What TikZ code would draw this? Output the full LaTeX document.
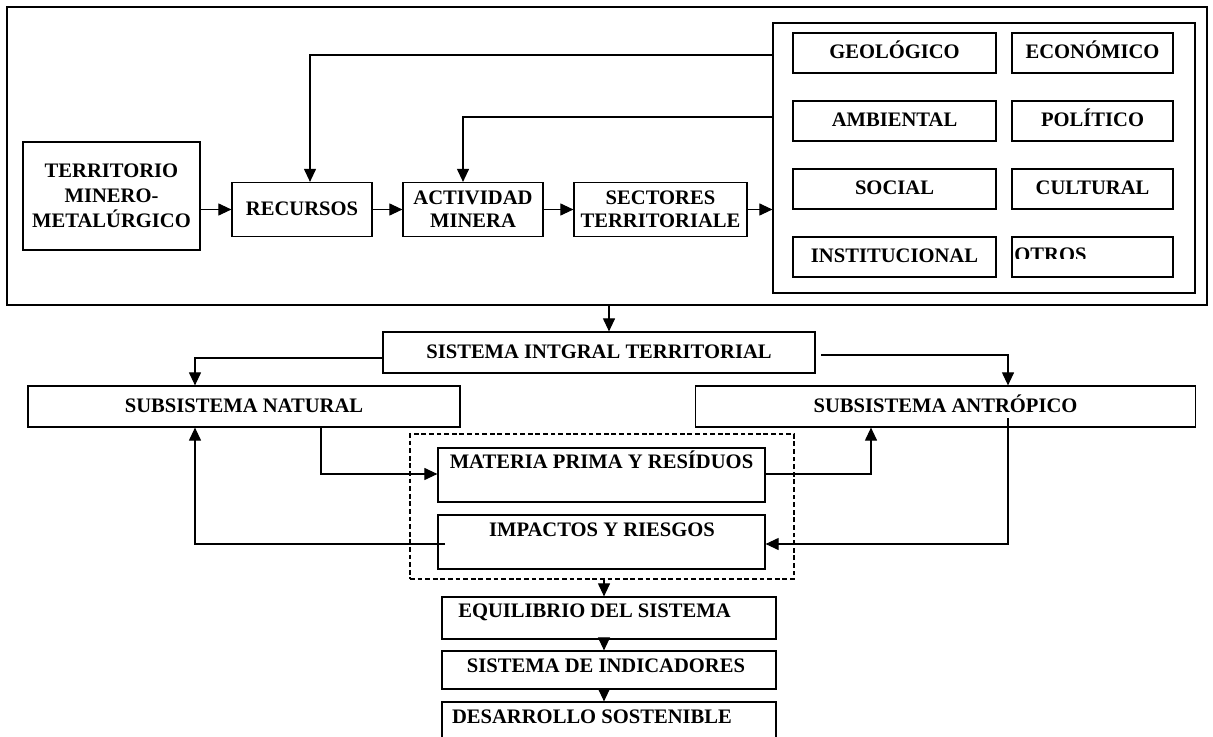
\documentclass[tikz,border=0pt]{standalone}
\usepackage{fontspec}
\setmainfont{Liberation Serif}
\usetikzlibrary{arrows.meta}

\begin{document}
\begin{tikzpicture}[x=0.5pt,y=-0.5pt,
    caja/.style={draw, line width=0.6pt, inner sep=0pt, align=center,
        font=\bfseries\fontsize{10.3}{11.5}\selectfont},
    linea/.style={caja, text height=6.8pt, text depth=1pt},
    texto/.style={inner sep=0pt, text height=6.8pt, text depth=0pt,
        font=\bfseries\fontsize{10.3}{11.5}\selectfont},
    flecha/.style={-{Triangle[length=6.5pt,width=6pt]}, line width=0.55pt}]
    \useasboundingbox (0,0) rectangle (1213,737);

    \node[caja, minimum width=600pt, minimum height=149pt] (marco) at (607,156) {};
    \node[caja, minimum width=211pt, minimum height=135pt] (factores) at (984,158) {};

    \node[caja, minimum width=88.5pt, minimum height=54pt, font=\bfseries\fontsize{10.3}{12.5}\selectfont] (terr) at (111.5,196) {TERRITORIO\\MINERO-\\METALÚRGICO};
    \node[linea, minimum width=70pt, minimum height=27pt] (rec) at (302,209.5) {RECURSOS};
    \node[caja, minimum width=70pt, minimum height=27pt] (act) at (473,209.5) {ACTIVIDAD\\MINERA};
    \node[caja, minimum width=86.5pt, minimum height=27pt] (sect) at (660.5,209.5) {SECTORES\\TERRITORIALE};

    \node[linea, minimum width=101.5pt, minimum height=20pt] (geo) at (894.5,53) {GEOLÓGICO};
    \node[linea, minimum width=80.5pt, minimum height=20pt] (eco) at (1092.5,53) {ECONÓMICO};
    \node[linea, minimum width=101.5pt, minimum height=20pt] (amb) at (894.5,121) {AMBIENTAL};
    \node[linea, minimum width=80.5pt, minimum height=20pt] (pol) at (1092.5,121) {POLÍTICO};
    \node[linea, minimum width=101.5pt, minimum height=20pt] (soc) at (894.5,189) {SOCIAL};
    \node[linea, minimum width=80.5pt, minimum height=20pt] (cul) at (1092.5,189) {CULTURAL};
    \node[linea, minimum width=101.5pt, minimum height=20pt] (inst) at (894.5,257) {INSTITUCIONAL};
    \node[caja, minimum width=80.5pt, minimum height=20pt] (otros) at (1092.5,257) {};
    \begin{scope}
        \clip (1012,237) rectangle (1173,259);
        \node[texto, anchor=base west] (otrosT) at (1014,262) {OTROS};
    \end{scope}

    \draw[flecha] (terr.east |- rec.west) -- (rec.west);
    \draw[flecha] (rec) -- (act);
    \draw[flecha] (act) -- (sect);
    \draw[flecha] (sect.east) -- (sect.east -| factores.west);
    \draw[flecha] (factores.west |- 0,55) -| (rec.north -| 310,0);
    \draw[flecha] (factores.west |- 0,117) -| (act.north -| 463,0);

    % sistema integral
    \node[linea, minimum width=216pt, minimum height=20.5pt] (sist) at (599,352.5) {SISTEMA INTGRAL TERRITORIAL};
    \node[linea, minimum width=216pt, minimum height=20.5pt] (nat) at (244,406.5) {SUBSISTEMA NATURAL};
    \node[linea, minimum width=250pt, minimum height=20.5pt] (ant) at (945.5,406.5) {SUBSISTEMA ANTRÓPICO};

    \node[caja, dash pattern=on 2.4pt off 1.4pt, line width=0.8pt, minimum width=192pt, minimum height=72.5pt] (nucleo) at (602,506.5) {};
    \node[caja, minimum width=163.5pt, minimum height=27pt] (mat) at (601.5,475) {};
    \node[texto] (matT) at (601.5,461.5) {MATERIA PRIMA Y RESÍDUOS};
    \node[caja, minimum width=163.5pt, minimum height=27pt] (imp) at (601.5,542) {};
    \node[texto] (impT) at (602,530) {IMPACTOS Y RIESGOS};

    \node[caja, minimum width=167pt, minimum height=21pt] (equil) at (609,618) {};
    \node[texto] (equilT) at (594.5,611) {EQUILIBRIO DEL SISTEMA};
    \node[caja, minimum width=167pt, minimum height=19pt] (indic) at (609,670) {};
    \node[texto] (indicT) at (606,665.5) {SISTEMA DE INDICADORES};
    \node[caja, minimum width=167pt, minimum height=24pt] (desa) at (609,726) {};
    \node[texto] (desaT) at (592,717) {DESARROLLO SOSTENIBLE};

    \coordinate (sistR) at (821,355);
    \coordinate (antS) at (1008,418);
    \coordinate (impW) at (445,544);

    \draw[flecha] (marco.south -| 609,0) -- (sist.north -| 609,0);
    \draw[flecha] (sist.west |- 0,358) -| (nat.north -| 195,0);
    \draw[flecha] (sistR) -| (ant.north -| 1008,0);
    \draw[flecha] (nat.south -| 321,0) |- (mat.west |- 0,474);
    \draw[flecha] (mat.east |- 0,474) -| (ant.south -| 871,0);
    \draw[flecha] (antS) |- (imp.east |- 0,544);
    \draw[flecha] (impW) -| (nat.south -| 195,0);

    \draw[flecha] (nucleo.south -| 604,0) -- (equil.north -| 604,0);
    \draw[flecha] (equil.south -| 604,0) -- (indic.north -| 604,0);
    \draw[flecha] (indic.south -| 604,0) -- (desa.north -| 604,0);

\end{tikzpicture}
\end{document}
